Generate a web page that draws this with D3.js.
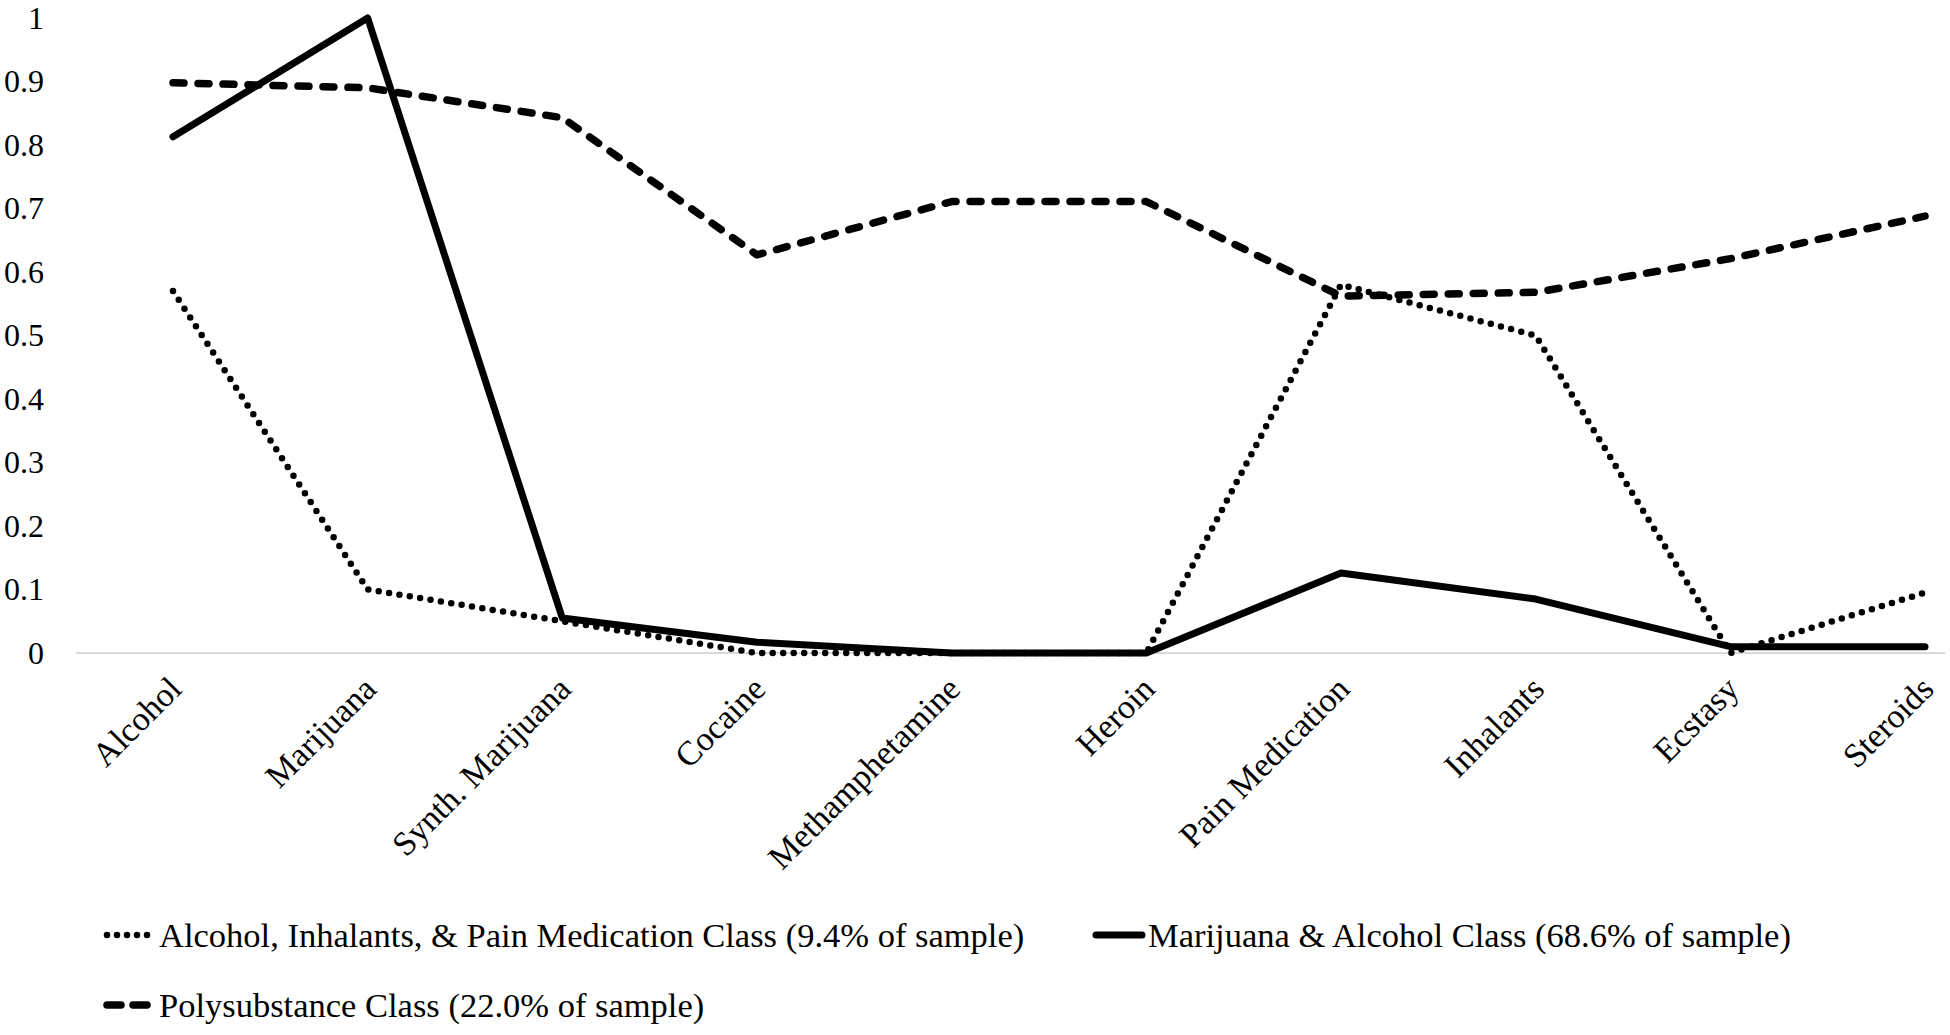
<!DOCTYPE html>
<html>
<head>
<meta charset="utf-8">
<script src="https://cdn.jsdelivr.net/npm/d3@7"></script>
<style>
  html, body { margin: 0; padding: 0; background: #fff; }
  svg { display: block; }
  .ylab { text-anchor: end; }
</style>
</head>
<body>
<svg id="chart" width="1950" height="1035"></svg>
<script>
const categories = ["Alcohol", "Marijuana", "Synth. Marijuana", "Cocaine", "Methamphetamine",
  "Heroin", "Pain Medication", "Inhalants", "Ecstasy", "Steroids"];
const yTicks = [0, 0.1, 0.2, 0.3, 0.4, 0.5, 0.6, 0.7, 0.8, 0.9, 1];
const yTickLabels = ["0", "0.1", "0.2", "0.3", "0.4", "0.5", "0.6", "0.7", "0.8", "0.9", "1"];

const alcInhPainValues = [0.57, 0.10, 0.05, 0.0, 0.0, 0.0, 0.58, 0.50, 0.0, 0.095];
const marijuanaAlcValues = [0.813, 1.0, 0.055, 0.017, 0.0, 0.0, 0.126, 0.085, 0.01, 0.01];
const polyValues = [0.898, 0.89, 0.843, 0.627, 0.711, 0.711, 0.562, 0.568, 0.621, 0.688];

const seriesNames = [
  "Alcohol, Inhalants, & Pain Medication Class (9.4% of sample)",
  "Marijuana & Alcohol Class (68.6% of sample)",
  "Polysubstance Class (22.0% of sample)"
];

const FONT = '"Liberation Serif", "Times New Roman", Tinos';

const styles = {
  dotted: { width: 6.5, dash: "0,10.5", legendDash: "0,10" },
  solid: { width: 7, dash: null, legendDash: null },
  dashed: { width: 7.5, dash: "11,14", legendDash: "14,12" }
};
const series = [
  { name: seriesNames[0], values: alcInhPainValues, style: styles.dotted },
  { name: seriesNames[1], values: marijuanaAlcValues, style: styles.solid },
  { name: seriesNames[2], values: polyValues, style: styles.dashed }
];

const svg = d3.select("#chart");

const x = d3.scalePoint().domain(categories).range([173, 1925]);
const y = d3.scaleLinear().domain([0, 1]).range([653, 18]);

// x axis baseline
svg.append("line")
  .attr("x1", 76).attr("x2", 1945)
  .attr("y1", y(0)).attr("y2", y(0))
  .attr("stroke", "#d9d9d9").attr("stroke-width", 2);

// y tick labels (right aligned)
svg.append("g").selectAll("text")
  .data(yTicks)
  .join("text")
  .attr("class", "ylab")
  .attr("x", 44)
  .attr("y", d => y(d))
  .attr("dy", "0.34em")
  .attr("text-anchor", "end")
  .style("text-anchor", "end")
  .attr("fill", "#000")
  .style("font-family", FONT)
  .style("font-size", "32px")
  .text((d, i) => yTickLabels[i]);

// x category labels
const xAxis = d3.axisBottom(x).tickSize(0).tickPadding(0);
const gx = svg.append("g").attr("transform", `translate(0,${y(0)})`).call(xAxis);
gx.select(".domain").remove();
gx.selectAll("text")
  .attr("fill", "#000")
  .style("font-family", FONT)
  .style("font-size", "34px")
  .attr("text-anchor", "end")
  .style("text-anchor", "end")
  .attr("y", 0).attr("dy", 0)
  .attr("transform", "translate(10,38) rotate(-45)");

// lines
const line = d3.line()
  .x((d, i) => x(categories[i]))
  .y(d => y(d));

series.forEach(s => {
  svg.append("path")
    .datum(s.values)
    .attr("d", line)
    .attr("fill", "none")
    .attr("stroke", "#000")
    .attr("stroke-width", s.style.width)
    .attr("stroke-linecap", "round")
    .attr("stroke-linejoin", "round")
    .attr("stroke-dasharray", s.style.dash);
});

// legend
const legendItems = [
  { s: series[0], x: 103, y: 935 },
  { s: series[1], x: 1092, y: 935 },
  { s: series[2], x: 103, y: 1005 }
];
legendItems.forEach(it => {
  const g = svg.append("g").attr("transform", `translate(${it.x},${it.y})`);
  g.append("line")
    .attr("x1", 4).attr("x2", 50).attr("y1", 0).attr("y2", 0)
    .attr("stroke", "#000")
    .attr("stroke-width", it.s.style.width)
    .attr("stroke-linecap", "round")
    .attr("stroke-dasharray", it.s.style.legendDash);
  g.append("text")
    .attr("x", 56).attr("y", 0).attr("dy", "0.34em")
    .attr("fill", "#000")
    .style("font-family", FONT)
    .style("font-size", "34.5px")
    .text(it.s.name);
});
</script>
</body>
</html>
